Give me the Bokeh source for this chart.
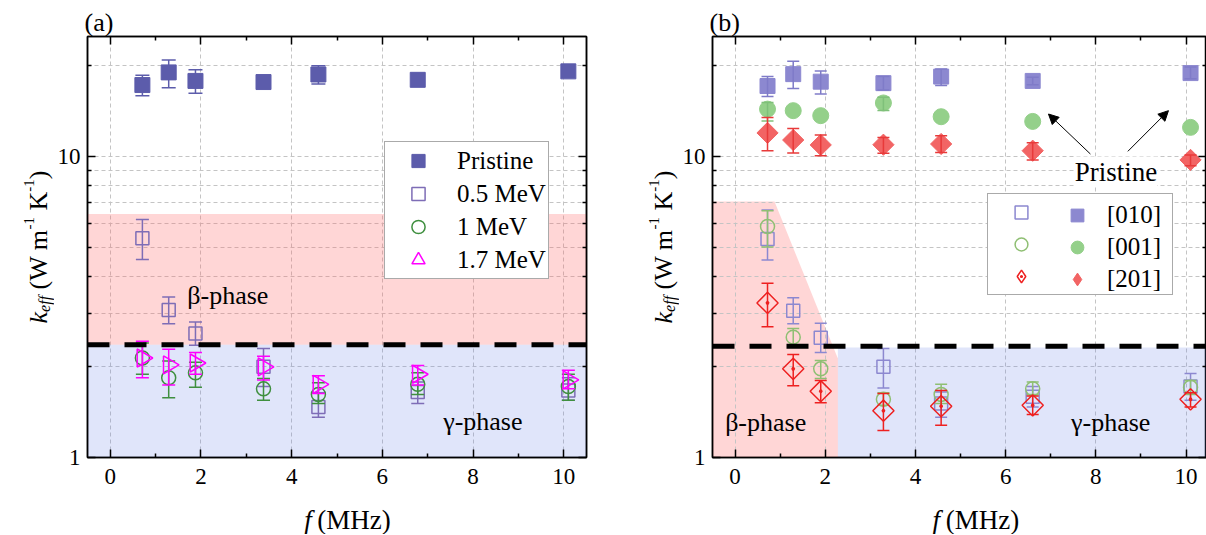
import math
from bokeh.plotting import figure
from bokeh.models import (FixedTicker, PrintfTickFormatter, LinearAxis, LogAxis, Label,
                          Legend, LegendItem, BoxAnnotation, Span, Arrow, NormalHead, Range1d,
                          CustomJSTickFormatter)
from bokeh.layouts import row, column
from bokeh.embed import file_html
from bokeh.resources import INLINE
from bokeh.core.properties import value

nan = float("nan")
FONT = "Liberation Serif"

# ---------------- panel (a): irradiation energies ----------------
freq_a = [0.71, 1.29, 1.88, 3.38, 4.59, 6.78, 10.10]
pristine_a = [17.25, 19.0, 17.8, 17.65, 18.7, 17.95, 19.15]
pristine_a_lo = [15.9, 16.9, 16.2, nan, 17.4, nan, nan]
pristine_a_hi = [18.6, 20.9, 19.4, nan, 20.0, nan, nan]
mev05 = [5.35, 3.09, 2.58, 2.00, 1.47, 1.65, 1.67]
mev05_lo = [4.54, 2.78, 2.36, 1.72, 1.36, 1.51, 1.55]
mev05_hi = [6.17, 3.41, 2.82, 2.30, 1.64, 1.78, 1.84]
mev1 = [2.14, 1.84, 1.91, 1.69, 1.62, 1.75, 1.72]
mev1_lo = [1.89, 1.58, 1.71, 1.55, 1.51, 1.62, 1.55]
mev1_hi = [2.40, 2.09, 2.07, 1.83, 1.77, 1.91, 1.89]
mev17 = [2.14, 2.03, 2.06, 2.00, 1.75, 1.89, 1.81]
mev17_lo = [1.84, 1.74, 1.89, 1.81, 1.63, 1.74, 1.69]
mev17_hi = [2.43, 2.29, 2.23, 2.17, 1.87, 2.02, 1.95]
labels_a = ["Pristine", "0.5 MeV", "1 MeV", "1.7 MeV"]
phase_boundary_a = 2.37
beta_top_a = 6.44

# ---------------- panel (b): crystal orientations ----------------
freq_b = [0.72, 1.29, 1.90, 3.29, 4.57, 6.60, 10.10]
p010 = [17.12, 18.75, 17.7, 17.5, 18.4, 17.8, 18.9]
p010_lo = [15.8, 16.8, 16.1, 16.6, 17.2, 17.3, 18.1]
p010_hi = [18.4, 20.7, 19.2, 18.4, 19.5, 18.3, 19.8]
p001 = [14.35, 14.18, 13.65, 15.04, 13.54, 13.06, 12.48]
p001_lo = [13.1, nan, nan, 14.2, nan, nan, nan]
p001_hi = [15.1, nan, nan, 15.7, nan, nan, nan]
p201 = [11.96, 11.33, 10.91, 10.93, 10.99, 10.44, 9.73]
p201_lo = [10.44, 10.26, 10.05, 10.23, 10.3, 9.73, 9.3]
p201_hi = [13.46, 12.38, 11.78, 11.56, 11.7, 11.1, 10.1]
i010 = [5.32, 3.07, 2.50, 2.00, 1.51, 1.59, 1.72]
i010_lo = [4.53, 2.78, 2.23, 1.70, 1.36, 1.47, 1.55]
i010_hi = [6.64, 3.39, 2.79, 2.30, 1.65, 1.72, 1.90]
i001 = [5.85, 2.51, 1.97, 1.56, 1.62, 1.69, 1.71]
i001_lo = [5.0, 2.33, 1.83, 1.49, 1.51, 1.62, 1.62]
i001_hi = [6.6, 2.68, 2.10, 1.64, 1.75, 1.78, 1.80]
i201 = [3.26, 1.97, 1.66, 1.43, 1.48, 1.49, 1.56]
i201_lo = [2.72, 1.73, 1.52, 1.23, 1.28, 1.39, 1.47]
i201_hi = [3.79, 2.20, 1.80, 1.63, 1.67, 1.60, 1.64]
labels_b = ["[010]", "[001]", "[201]"]
phase_boundary_b = 2.34
gamma_top_b = 2.32
beta_patch_x = [-0.5, 0.875, 2.28, 2.28, -0.5]
beta_patch_y = [7.08, 7.08, 2.13, 1.0, 1.0]
arrow_tail_x = [7.88, 8.71]
arrow_tail_y = [10.18, 10.39]
arrow_head_x = [6.95, 9.61]
arrow_head_y = [13.82, 14.18]

X_TICKS = [0, 2, 4, 6, 8, 10]
X_MINOR = [1, 3, 5, 7, 9]
Y_TICKS = [1, 10]
Y_MINOR = [2, 3, 4, 5, 6, 7, 8, 9, 20]

PINK = "#FF6666"
BLUE = "#6E82E6"
H_MAIN = 490
H_XLAB = 44
H_ALL = H_MAIN + H_XLAB

# Times metrics (advance widths in em)
REG = {' ': 0.25, '(': 0.333, ')': 0.333, 'W': 0.944, 'm': 0.778, 'K': 0.722,
       '-': 0.333, '1': 0.5, 'M': 0.889, 'H': 0.722, 'z': 0.444}
ITA = {'k': 0.444, 'e': 0.444, 'f': 0.278}


def twidth(text, size, italic=False):
    tab = ITA if italic else REG
    return sum(tab.get(c, 0.5) for c in text) * size


def style_axis(ax, labels=True, standoff=9):
    ax.axis_line_color = "black"
    ax.axis_line_width = 1.5
    ax.major_tick_in = 8
    ax.major_tick_out = 0
    ax.minor_tick_in = 4
    ax.minor_tick_out = 0
    ax.major_tick_line_color = "black"
    ax.major_tick_line_width = 1.5
    ax.minor_tick_line_color = "black"
    ax.minor_tick_line_width = 1.5
    ax.major_label_text_font = FONT
    ax.major_label_text_color = "black"
    ax.major_label_text_font_size = "23px" if labels else "1px"
    ax.major_label_standoff = standoff if labels else 0


def strip(width, height):
    s = figure(width=width, height=height, x_range=Range1d(0, width), y_range=Range1d(0, height),
               x_axis_location=None, y_axis_location=None, toolbar_location=None,
               output_backend="svg", min_border=0)
    s.outline_line_color = None
    s.grid.visible = False
    s.background_fill_color = "white"
    s.border_fill_color = "white"
    return s


def stext(s, x, y, t, size, italic=False, angle=0.0):
    s.text(x=[x], y=[y], text=[t], angle=angle, text_font=value(FONT),
           text_font_size=f"{size}px", text_font_style="italic" if italic else "normal",
           text_color="black", text_align="left", text_baseline="alphabetic")


def ylabel_strip(width, baseline_x, center_y_screen):
    s = strip(width, H_ALL)
    # (text, font px, italic, baseline shift px, leading gap px)
    pieces = [("k", 26, True, 0, 0), ("eff", 16, True, 6, 0), ("(W m", 26, False, 0, 6.5),
              ("-1", 15, False, -10, 0), ("K", 26, False, 0, 6.5), ("-1", 15, False, -10, 0),
              (")", 26, False, 0, 0)]
    adv = [gap + twidth(t, sz, it) for t, sz, it, _, gap in pieces]
    pos = (H_ALL - center_y_screen) - sum(adv) / 2
    for (t, sz, it, sh, gap), w in zip(pieces, adv):
        stext(s, baseline_x + sh, pos + gap, t, sz, it, math.pi / 2)
        pos += w
    return s


def xlabel_strip(width, center_x):
    s = strip(width, H_XLAB)
    w_f = twidth("f", 27, True)
    gap = 0.25 * 27
    w_r = twidth("(MHz)", 27)
    x0 = center_x - (w_f + gap + w_r) / 2
    base = H_XLAB - 29
    stext(s, x0, base, "f", 27, True)
    stext(s, x0 + w_f + gap, base, "(MHz)", 27)
    return s


def make_fig(width, bl, br, x_end, tag):
    p = figure(width=width, height=H_MAIN, x_range=Range1d(-0.5, x_end), y_range=Range1d(1, 25),
               y_axis_type="log", output_backend="svg", toolbar_location=None,
               min_border_left=bl, min_border_right=br, min_border_top=36, min_border_bottom=33)
    p.background_fill_color = "white"
    p.border_fill_color = "white"
    p.outline_line_color = "black"
    p.outline_line_width = 1.5
    xt = FixedTicker(ticks=X_TICKS, minor_ticks=X_MINOR)
    yt = FixedTicker(ticks=Y_TICKS, minor_ticks=Y_MINOR)
    p.xaxis.ticker = xt
    p.yaxis.ticker = yt
    p.xgrid.ticker = xt
    p.ygrid.ticker = yt
    p.yaxis.formatter = PrintfTickFormatter(format="%d")
    style_axis(p.xaxis[0], True, 11)
    style_axis(p.yaxis[0], True, 7)
    blank = CustomJSTickFormatter(code="return ''")
    top = LinearAxis(ticker=xt, formatter=blank)
    style_axis(top, False)
    p.add_layout(top, "above")
    right = LogAxis(ticker=yt, formatter=blank)
    style_axis(right, False)
    p.add_layout(right, "right")
    for g in (p.xgrid[0], p.ygrid[0]):
        g.grid_line_color = "#c4c4c4"
        g.grid_line_dash = "4 3"
        g.grid_line_width = 1
    p.ygrid[0].minor_grid_line_color = "#c4c4c4"
    p.ygrid[0].minor_grid_line_dash = "4 3"
    p.ygrid[0].minor_grid_line_width = 1
    # panel tag as the figure title
    p.title.text = tag
    p.title.align = "left"
    p.title.offset = -3
    p.title.standoff = 0
    p.title.text_font = FONT
    p.title.text_font_size = "26px"
    p.title.text_font_style = "normal"
    p.title.text_color = "black"
    return p


def errbars(p, x, lo, hi, color, cap=13, lw=1.5):
    p.segment(x0=x, y0=lo, x1=x, y1=hi, line_color=color, line_width=lw)
    p.scatter(x=x, y=lo, marker="dash", size=cap, line_color=color, line_width=lw)
    p.scatter(x=x, y=hi, marker="dash", size=cap, line_color=color, line_width=lw)


def ptext(p, x, y, t, size="26px"):
    p.text(x=[x], y=[y], text=[t], text_font=value(FONT), text_font_size=size,
           text_color="black", text_align="left", text_baseline="middle")


# ======================= panel (a) =======================
pa = make_fig(546, 30, 14, 10.5, "(a)")
pa.add_layout(BoxAnnotation(bottom=phase_boundary_a, top=beta_top_a, fill_color=PINK,
                            fill_alpha=0.27, line_color=None, level="underlay"))
pa.add_layout(BoxAnnotation(top=phase_boundary_a, fill_color=BLUE, fill_alpha=0.21,
                            line_color=None, level="underlay"))
pa.add_layout(Span(location=phase_boundary_a, dimension="width", line_color="black",
                   line_width=5, line_dash="22 15"))
ptext(pa, 1.70, 3.45, "β-phase")
ptext(pa, 7.34, 1.32, "γ-phase")

C_PR = "#5C5CAB"
C_05 = "#7E6DB6"
C_1 = "#3F8F3F"
C_17 = "#FF00FF"
errbars(pa, freq_a, pristine_a_lo, pristine_a_hi, C_PR, 14)
r_pr = pa.scatter(freq_a, pristine_a, marker="square", size=15, fill_color=C_PR, line_color=C_PR)
errbars(pa, freq_a, mev05_lo, mev05_hi, C_05)
r_05 = pa.scatter(freq_a, mev05, marker="square", size=13, fill_color=None, line_color=C_05,
                  line_width=1.5)
errbars(pa, freq_a, mev1_lo, mev1_hi, C_1)
r_1 = pa.scatter(freq_a, mev1, marker="circle", size=14, fill_color=None, line_color=C_1,
                 line_width=1.5)
errbars(pa, freq_a, mev17_lo, mev17_hi, C_17)
r_17 = pa.scatter(freq_a, mev17, marker="triangle", size=18, angle=-math.pi / 2,
                  fill_color=None, line_color=C_17, line_width=1.5)

leg_a = Legend(items=[LegendItem(label=l, renderers=[r]) for l, r in
                      zip(labels_a, [r_pr, r_05, r_1, r_17])],
               location=(297, 178), padding=2, margin=0, spacing=0, glyph_width=62,
               glyph_height=33, label_height=33, label_standoff=8, label_text_font=FONT,
               label_text_font_size="25px", label_text_color="black",
               border_line_color="#555555", border_line_width=1,
               background_fill_color="white", background_fill_alpha=1)
pa.add_layout(leg_a)

# ======================= panel (b) =======================
pb = make_fig(527, 30, 0, 10.454, "(b)")
rp = pb.patch(beta_patch_x, beta_patch_y, fill_color=PINK, fill_alpha=0.27, line_color=None)
rp.level = "underlay"
pb.add_layout(BoxAnnotation(left=beta_patch_x[2], top=gamma_top_b, fill_color=BLUE,
                            fill_alpha=0.21, line_color=None, level="underlay"))
pb.add_layout(Span(location=phase_boundary_b, dimension="width", line_color="black",
                   line_width=5, line_dash="22 15"))
ptext(pb, -0.22, 1.31, "β-phase")
ptext(pb, 7.45, 1.31, "γ-phase")

C_010 = "#8C88D0"
C_001F = "#94D08A"
C_001 = "#8FBF73"
C_201F = "#F26464"
C_201 = "#EE2020"

# pristine (filled)
r_f010 = pb.scatter(freq_b, p010, marker="square", size=15, fill_color=C_010, line_color=C_010)
errbars(pb, freq_b, p010_lo, p010_hi, "#7F7BC8", 12)
r_f001 = pb.scatter(freq_b, p001, marker="circle", size=16, fill_color=C_001F, line_color=C_001F)
errbars(pb, freq_b, p001_lo, p001_hi, "#7FC07A", 12)
pb.scatter(freq_b, p201, marker="square", size=15, angle=math.pi / 4, fill_color=C_201F,
           line_color=C_201F)
errbars(pb, freq_b, p201_lo, p201_hi, "#E83A3A", 12)

# irradiated (open)
errbars(pb, freq_b, i010_lo, i010_hi, C_010, 12)
r_o010 = pb.scatter(freq_b, i010, marker="square", size=13, fill_color=None, line_color=C_010,
                    line_width=1.5)
errbars(pb, freq_b, i001_lo, i001_hi, C_001, 12)
r_o001 = pb.scatter(freq_b, i001, marker="circle", size=14, fill_color=None, line_color=C_001,
                    line_width=1.5)
errbars(pb, freq_b, i201_lo, i201_hi, C_201, 12)
pb.scatter(freq_b, i201, marker="square_dot", size=15, angle=math.pi / 4, fill_color=None,
           line_color=C_201, line_width=1.5)

# legend-only diamond renderers (legend glyphs are not rotated)
r_leg_o201 = pb.scatter(freq_b, i201, marker="diamond_dot", size=15, fill_color=None,
                        line_color=C_201, line_width=1.5, visible=False)
r_leg_f201 = pb.scatter(freq_b, p201, marker="diamond", size=15, fill_color=C_201F,
                        line_color=C_201F, visible=False)

for hx, hy, tx, ty in zip(arrow_head_x, arrow_head_y, arrow_tail_x, arrow_tail_y):
    pb.add_layout(Arrow(x_start=tx, y_start=ty, x_end=hx, y_end=hy, line_color="black",
                        line_width=1, end=NormalHead(size=10, fill_color="black",
                                                     line_color="black")))
pb.add_layout(Label(x=7.53, y=8.9, text="Pristine", text_font=FONT, text_font_size="27px",
                    text_color="black", text_align="left", text_baseline="middle",
                    background_fill_color="white", background_fill_alpha=1.0))

leg_open = Legend(items=[LegendItem(label=" ", renderers=[r]) for r in
                         [r_o010, r_o001, r_leg_o201]],
                  location=(275, 162), padding=2, margin=0, spacing=0, glyph_width=62,
                  glyph_height=32, label_height=32, label_width=118, label_standoff=0,
                  label_text_font=FONT, label_text_font_size="25px",
                  border_line_color="#555555", border_line_width=1,
                  background_fill_color="white", background_fill_alpha=1)
pb.add_layout(leg_open)
leg_fill = Legend(items=[LegendItem(label=l, renderers=[r]) for l, r in
                         zip(labels_b, [r_f010, r_f001, r_leg_f201])],
                  location=(343, 162), padding=2, margin=0, spacing=0, glyph_width=44,
                  glyph_height=32, label_height=32, label_standoff=8,
                  label_text_font=FONT, label_text_font_size="25px", label_text_color="black",
                  border_line_color=None, background_fill_alpha=0)
pb.add_layout(leg_fill)

# ---------------- axis-title strips ----------------
ylab_a = ylabel_strip(54, 38, 246.5)
xlab_a = xlabel_strip(546, 335 - 54)
ylab_b = ylabel_strip(79, 63, 246.5)
xlab_b = xlabel_strip(527, 957.5 - 679)

layout = row(ylab_a, column(pa, xlab_a), ylab_b, column(pb, xlab_b))
open("out.html", "w").write(file_html(layout, INLINE))
